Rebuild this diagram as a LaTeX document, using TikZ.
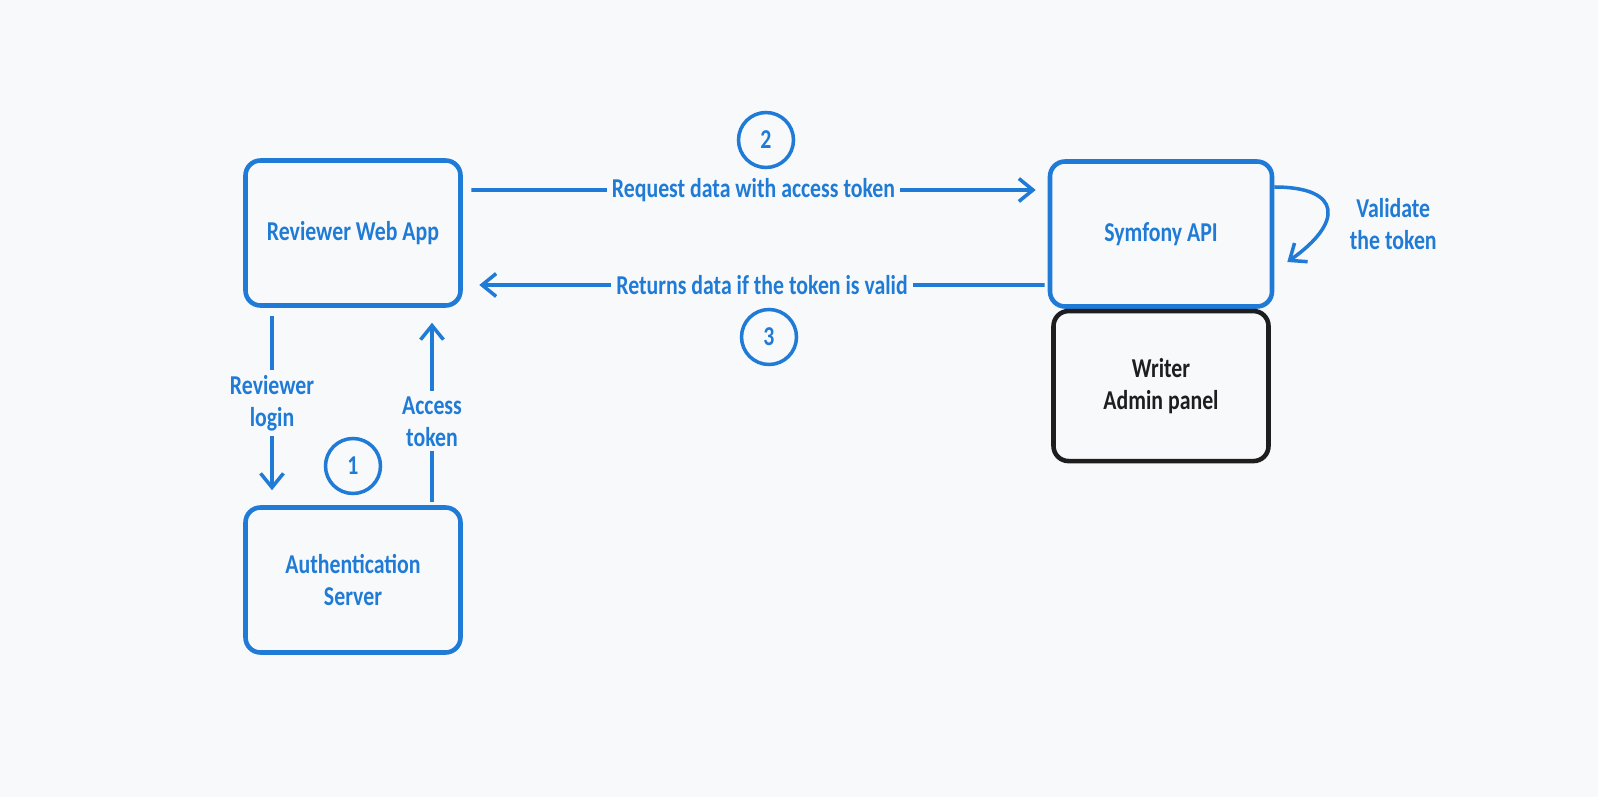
\documentclass[tikz,border=0pt]{standalone}
\usepackage{fontspec}
\setmainfont{Carlito}[FakeStretch=0.8]
\usetikzlibrary{positioning, arrows.meta}
\definecolor{pagebg}{HTML}{F8F9FB}
\definecolor{inkblue}{HTML}{1F7BD6}
\definecolor{inkblack}{HTML}{1E1E1E}
\tikzstyle{service} = [rectangle, rounded corners=0.3cm, minimum width=4.3cm, minimum height=2.9cm, text centered, align=center, draw=inkblue, text=inkblue, line width=2.6pt, font=\fontsize{15.5}{18}\selectfont\bfseries]
\tikzstyle{panel} = [service, draw=inkblack, text=inkblack, minimum height=3cm]
\tikzstyle{flow} = [draw=inkblue, line width=2pt, -{Straight Barb[length=8pt, width=13pt, line width=2pt]}]
\tikzstyle{tag} = [fill=pagebg, text=inkblue, inner sep=3pt, align=center, font=\fontsize{15.5}{18}\selectfont\bfseries]
\tikzstyle{stepno} = [circle, draw=inkblue, line width=2pt, minimum size=1.1cm, inner sep=0pt, text=inkblue, font=\fontsize{15.5}{18}\selectfont\bfseries]

\begin{document}
\begin{tikzpicture}
		\fill[pagebg] (0,0) rectangle (31.96,-15.94);
		\useasboundingbox (0,0) rectangle (31.96,-15.94);

		\node (web) [service] at (7.06,-4.66) {Reviewer Web App};
		\node (auth) [service] at (7.06,-11.6) {Authentication\\Server};
		\node (api) [service, minimum width=4.44cm] at (23.22,-4.68) {Symfony API};
		\node (admin) [panel, below=0cm of api] {Writer\\Admin panel};

		\node (one) [stepno] at (7.06,-9.32) {1};
		\node (two) [stepno] at (15.32,-2.8) {2};
		\node (three) [stepno] at (15.38,-6.74) {3};

		\draw [flow] ([xshift=0.17cm, yshift=0.86cm]web.east) -- node[tag] {Request data with access token} ([xshift=-0.24cm, yshift=0.88cm]api.west);
		\draw [flow] ([xshift=-0.06cm, yshift=-1.02cm]api.west) -- node[tag] {Returns data if the token is valid} ([xshift=0.33cm, yshift=-1.04cm]web.east);
		\draw [flow] ([xshift=-1.62cm, yshift=-0.16cm]web.south) -- node[tag] {Reviewer\\login} ([xshift=-1.62cm, yshift=0.3cm]auth.north);
		\draw [flow] ([xshift=1.58cm, yshift=0.06cm]auth.north) -- node[tag, pos=0.45] {Access\\token} ([xshift=1.58cm, yshift=-0.3cm]web.south);
		\draw [flow] ([yshift=0.94cm]api.east) to[out=0, in=35, looseness=2.3] ([xshift=0.26cm, yshift=-0.56cm]api.east);
		\node (check) [tag, right=1.4cm of api.east, yshift=0.2cm] {Validate\\the token};
	  \end{tikzpicture}
\end{document}
